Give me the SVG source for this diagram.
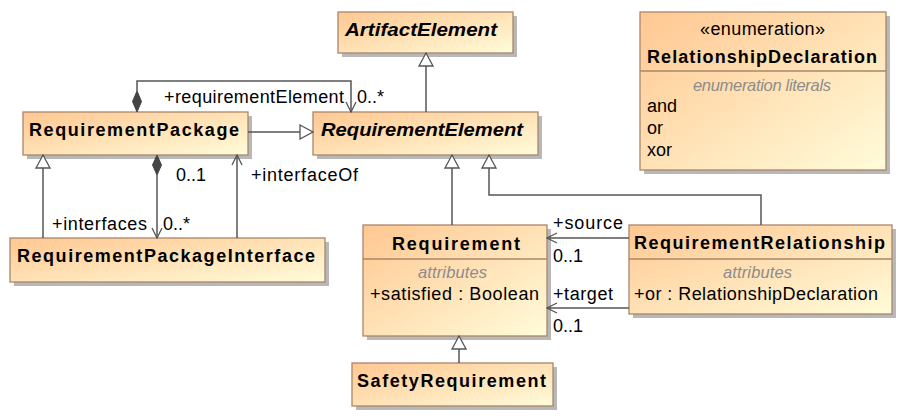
<svg xmlns="http://www.w3.org/2000/svg" width="905" height="418" viewBox="0 0 905 418">
<defs>
<linearGradient id="fill" x1="0" y1="0" x2="1" y2="1">
<stop offset="0" stop-color="#FFC791"/>
<stop offset="1" stop-color="#FFFCDA"/>
</linearGradient>
<marker id="gen" viewBox="0 0 16 16" refX="14" refY="8" markerWidth="16" markerHeight="16" orient="auto" markerUnits="userSpaceOnUse">
<path d="M1,1 L14,8 L1,15 Z" fill="#fff" stroke="#555" stroke-width="1.3"/>
</marker>
<marker id="open" viewBox="0 0 12 12" refX="11" refY="6" markerWidth="12" markerHeight="12" orient="auto" markerUnits="userSpaceOnUse">
<path d="M1,1 L11,6 L1,11" fill="none" stroke="#555" stroke-width="1.3"/>
</marker>
</defs>
<style>
.shadow{fill:#b8b8b8}
.box{fill:url(#fill);stroke:#A8876A;stroke-width:1.3}
.sep{stroke:#A8876A;stroke-width:1.3}
.name{font-family:"Liberation Sans",Arial,sans-serif;font-weight:bold;font-size:18px;fill:#000}
.abs{font-style:italic}
.txt{font-family:"Liberation Sans",Arial,sans-serif;font-size:18px;fill:#000}
.cmp{font-family:"Liberation Sans",Arial,sans-serif;font-size:16.5px;font-style:italic;fill:#8c8c8c}
.line{fill:none;stroke:#555;stroke-width:1.5}
.dia{fill:#444;stroke:#444;stroke-width:1}
</style>
<rect width="905" height="418" fill="#fff"/>

<g id="ArtifactElement">
<rect class="shadow" x="342" y="16" width="175" height="41"/>
<rect class="box" x="338" y="12" width="175" height="41"/>
<text class="name abs" x="345" y="36" textLength="152" lengthAdjust="spacingAndGlyphs">ArtifactElement</text>
</g>

<g id="RequirementElement">
<rect class="shadow" x="317" y="116" width="225" height="43"/>
<rect class="box" x="313" y="112" width="225" height="43"/>
<text class="name abs" x="321" y="136" textLength="202" lengthAdjust="spacingAndGlyphs">RequirementElement</text>
</g>

<g id="RequirementPackage">
<rect class="shadow" x="27" y="116" width="225" height="43"/>
<rect class="box" x="23" y="112" width="225" height="43"/>
<text class="name" x="29" y="136" textLength="210" lengthAdjust="spacing">RequirementPackage</text>
</g>

<g id="RelationshipDeclaration">
<rect class="shadow" x="644" y="16" width="246" height="158"/>
<rect class="box" x="640" y="12" width="246" height="158"/>
<line class="sep" x1="640" y1="71" x2="886" y2="71"/>
<text class="txt" x="700" y="35" textLength="125" lengthAdjust="spacing">«enumeration»</text>
<text class="name" x="647" y="63" textLength="230" lengthAdjust="spacing">RelationshipDeclaration</text>
<text class="cmp" x="693" y="91" textLength="138" lengthAdjust="spacing">enumeration literals</text>
<text class="txt" x="647" y="112">and</text>
<text class="txt" x="647" y="134">or</text>
<text class="txt" x="647" y="156">xor</text>
</g>

<g id="RequirementPackageInterface">
<rect class="shadow" x="14" y="242" width="315" height="44"/>
<rect class="box" x="10" y="238" width="315" height="44"/>
<text class="name" x="17" y="262" textLength="298" lengthAdjust="spacing">RequirementPackageInterface</text>
</g>

<g id="Requirement">
<rect class="shadow" x="367" y="229" width="184" height="111"/>
<rect class="box" x="363" y="225" width="184" height="111"/>
<line class="sep" x1="363" y1="259" x2="547" y2="259"/>
<text class="name" x="392" y="250" textLength="128" lengthAdjust="spacing">Requirement</text>
<text class="cmp" x="418" y="278" textLength="69" lengthAdjust="spacing">attributes</text>
<text class="txt" x="370" y="300" textLength="169" lengthAdjust="spacing">+satisfied : Boolean</text>
</g>

<g id="RequirementRelationship">
<rect class="shadow" x="633" y="229" width="263" height="89"/>
<rect class="box" x="629" y="225" width="263" height="89"/>
<line class="sep" x1="629" y1="259" x2="892" y2="259"/>
<text class="name" x="634" y="249" textLength="251" lengthAdjust="spacing">RequirementRelationship</text>
<text class="cmp" x="723" y="278" textLength="69" lengthAdjust="spacing">attributes</text>
<text class="txt" x="634" y="300" textLength="244" lengthAdjust="spacing">+or : RelationshipDeclaration</text>
</g>

<g id="SafetyRequirement">
<rect class="shadow" x="356" y="367" width="201" height="43"/>
<rect class="box" x="352" y="363" width="201" height="43"/>
<text class="name" x="357" y="387" textLength="189" lengthAdjust="spacing">SafetyRequirement</text>
</g>

<g id="connectors">
<path class="line" d="M426,112 V53" marker-end="url(#gen)"/>
<path class="line" d="M248,132 H313" marker-end="url(#gen)"/>
<path class="line" d="M137,91 V81 H351 V112" marker-end="url(#open)"/>
<polygon class="dia" points="137,112 141.5,101.5 137,91 132.5,101.5"/>
<text class="txt" x="164" y="103" textLength="180" lengthAdjust="spacing">+requirementElement</text>
<text class="txt" x="357" y="103">0..*</text>
<path class="line" d="M43,238 V155" marker-end="url(#gen)"/>
<path class="line" d="M157,175 V238" marker-end="url(#open)"/>
<polygon class="dia" points="157,155 161.5,165 157,175 152.5,165"/>
<text class="txt" x="176" y="181">0..1</text>
<text class="txt" x="52" y="230" textLength="95" lengthAdjust="spacing">+interfaces</text>
<text class="txt" x="163" y="230">0..*</text>
<path class="line" d="M237,238 V155" marker-end="url(#open)"/>
<text class="txt" x="251" y="181" textLength="107" lengthAdjust="spacing">+interfaceOf</text>
<path class="line" d="M452,225 V155" marker-end="url(#gen)"/>
<path class="line" d="M761,225 V195 H489 V155" marker-end="url(#gen)"/>
<path class="line" d="M629,238 H547" marker-end="url(#open)"/>
<text class="txt" x="553" y="229" textLength="70" lengthAdjust="spacing">+source</text>
<text class="txt" x="553" y="262">0..1</text>
<path class="line" d="M629,308 H547" marker-end="url(#open)"/>
<text class="txt" x="553" y="300" textLength="60" lengthAdjust="spacing">+target</text>
<text class="txt" x="553" y="332">0..1</text>
<path class="line" d="M459,363 V336" marker-end="url(#gen)"/>
</g>
</svg>
